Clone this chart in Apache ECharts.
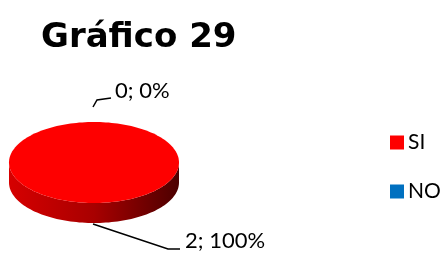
<!DOCTYPE html>
<html><head><meta charset="utf-8">
<script src="https://cdn.jsdelivr.net/npm/echarts@6/dist/echarts.min.js"></script>
<style>html,body{margin:0;padding:0;background:#fff}#c{width:446px;height:253px}</style>
</head><body><div id="c"></div>
<script>
// ---- data ----
const categories = ['SI', 'NO'];
const values = [2, 0];
const chartTitle = 'Gráfico 29';

// ---- styles / layout ----
const colors = ['#fe0000', '#0070c0'];
const sideStops = [['#d60000', '#a80000', '#4c0000'], ['#005a9a', '#004070', '#002040']];
const PIE = { cx: 94, cy: 162.5, rx: 85, ry: 40.5, depth: 20 };
const leaderLayout = [
  { pts: [[-1, 1], [74, 26], [86, 26]], tx: 5, ty: -8 },
  { pts: [[-1, -15], [3, -22], [17, -24]], tx: 4, ty: -7 }
];
const FONT = 'Lato';

const total = values.reduce((a, b) => a + b, 0);
const starts = [];
(function () { let acc = 0; values.forEach(v => { starts.push(acc); acc += v; }); })();

function pt(t, dz) {
  return [PIE.cx + PIE.rx * Math.sin(t), PIE.cy - PIE.ry * Math.cos(t) + dz];
}
function arc(t0, t1, dz) {
  const n = Math.max(2, Math.ceil((t1 - t0) / (Math.PI / 90)));
  const out = [];
  for (let k = 0; k <= n; k++) out.push(pt(t0 + (t1 - t0) * k / n, dz));
  return out;
}

function makeRender(i) {
  return function (params, api) {
    const v = api.value(0);
    const a0 = starts[i] / total * 2 * Math.PI;
    const a1 = (starts[i] + v) / total * 2 * Math.PI;
    const children = [];
    if (v > 0) {
      const s0 = Math.max(a0, Math.PI / 2), s1 = Math.min(a1, 3 * Math.PI / 2);
      if (s1 > s0) {
        const top = arc(s0, s1, 0);
        const bot = arc(s0, s1, PIE.depth).reverse();
        children.push({
          type: 'polygon', shape: { points: top.concat(bot) },
          style: {
            fill: new echarts.graphic.LinearGradient(0, 0, 1, 0, [
              { offset: 0, color: sideStops[i][0] },
              { offset: 0.5, color: sideStops[i][1] },
              { offset: 1, color: sideStops[i][2] }
            ])
          }
        });
      }
      let face = arc(a0, a1, 0);
      if (a1 - a0 < 2 * Math.PI - 1e-9) face = [[PIE.cx, PIE.cy]].concat(face);
      children.push({ type: 'polygon', shape: { points: face }, style: { fill: colors[i] } });
    }
    const mid = (a0 + a1) / 2;
    const anchor = Math.cos(mid) < 0 ? pt(mid, PIE.depth) : pt(mid, 0);
    const L = leaderLayout[i];
    const lp = L.pts.map(p => [anchor[0] + p[0], anchor[1] + p[1]]);
    children.push({ type: 'polyline', shape: { points: lp }, style: { stroke: '#000', lineWidth: 1.5, fill: null } });
    const last = lp[lp.length - 1];
    const pct = total ? Math.round(v / total * 100) : 0;
    children.push({
      type: 'text', x: last[0] + L.tx, y: last[1] + L.ty,
      style: { text: v + '; ' + pct + '%', fill: '#000', fontSize: 22, fontFamily: FONT, align: 'left', verticalAlign: 'middle' }
    });
    return { type: 'group', children: children };
  };
}

const chart = echarts.init(document.getElementById('c'), null, { renderer: 'canvas' });
chart.setOption({
  animation: false,
  backgroundColor: '#fff',
  title: {
    text: chartTitle, left: 41, top: 21, padding: 0,
    textStyle: { fontFamily: 'DejaVu Sans', fontWeight: 'bold', fontSize: 34, color: '#000' }
  },
  legend: {
    orient: 'vertical', left: 390, top: 132, padding: 0,
    itemWidth: 14, itemHeight: 14, itemGap: 28, icon: 'rect',
    data: categories,
    textStyle: { fontFamily: FONT, fontSize: 21, color: '#000', padding: [0, 0, 0, -1] }
  },
  series: categories.map((name, i) => ({
    type: 'custom', name: name, coordinateSystem: 'none', silent: true,
    itemStyle: { color: colors[i] },
    data: [[values[i]]],
    renderItem: makeRender(i)
  }))
});
</script></body></html>
